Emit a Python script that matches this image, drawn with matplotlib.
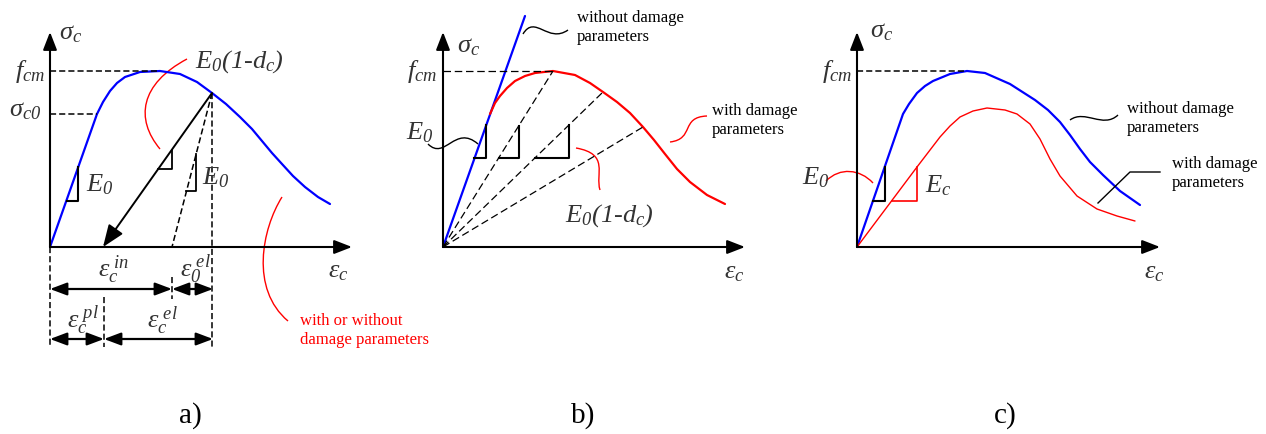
import matplotlib
matplotlib.use("Agg")
import matplotlib.pyplot as plt
from matplotlib.path import Path
from matplotlib.patches import PathPatch

plt.rcParams['font.family'] = ['Liberation Serif', 'DejaVu Serif']
plt.rcParams['mathtext.fontset'] = 'custom'
plt.rcParams['mathtext.rm'] = 'Liberation Serif:italic'
plt.rcParams['mathtext.it'] = 'Liberation Serif:italic'

BLUE = '#0000ff'
RED = '#ff0000'
GREY = '#333333'

# panel origins (pixels) and common baseline
X0 = {'a': 50, 'b': 443, 'c': 857}
Y0 = 248

# a) concrete curve (strain, stress) relative to origin
strain_a = [0, 47, 53, 60, 67, 75, 90, 110, 130, 147, 162, 176, 190, 202, 212, 222, 232, 243, 255, 268, 280]
stress_a = [0, 133, 145, 156, 164, 170, 175, 176, 173, 165, 154, 143, 130, 118, 106, 94, 83, 71, 60, 50, 43]
# unloading point and intercepts on strain axis
unload_pt = (162, 154)
eps_pl = 53     # plastic strain (arrow tip)
eps_in = 122    # inelastic strain
# b) damaged curve
strain_b = [47, 52, 57, 64, 72, 82, 92, 110, 132, 147, 160, 174, 187, 200, 211, 222, 234, 247, 264, 282]
stress_b = [133, 144, 151, 159, 166, 171, 174, 176, 172, 164, 155, 145, 134, 120, 107, 93, 78, 65, 52, 43]
elastic_b = ([0, 82], [0, 231])
secant_pts = [(110, 176), (160, 155), (200, 120)]
# c) with / without damage
strain_c_blue = [0, 46, 52, 60, 68, 76, 93, 110, 128, 153, 178, 191, 203, 213, 223, 233, 246, 263, 283]
stress_c_blue = [0, 133, 143, 154, 161, 166, 173, 176, 174, 163, 147, 137, 125, 112, 98, 85, 72, 56, 42]
strain_c_red = [0, 60, 83, 93, 103, 116, 130, 148, 160, 173, 183, 193, 203, 220, 240, 260, 278]
stress_c_red = [0, 80, 110, 121, 130, 136, 139, 137, 133, 123, 108, 88, 71, 51, 38, 31, 26]
f_cm = 176


def P(panel, e, s):
    return X0[panel] + e, Y0 - s


def curve(ax, panel, e, s, **kw):
    xs = [X0[panel] + v for v in e]
    ys = [Y0 - v for v in s]
    ax.plot(xs, ys, solid_capstyle='round', solid_joinstyle='round', **kw)


def arrow(ax, p0, p1, style='-|>', hl=0.9, hw=0.35, lw=1.5, ms=12):
    ax.annotate('', xy=p1, xytext=p0,
                arrowprops=dict(arrowstyle=f'{style},head_length={hl},head_width={hw}',
                                color='black', lw=lw, mutation_scale=ms,
                                shrinkA=0, shrinkB=0))


def squiggle(ax, pts, color, lw=1.0):
    codes = [Path.MOVETO] + [Path.CURVE4] * (len(pts) - 1)
    ax.add_patch(PathPatch(Path(pts, codes), fc='none', ec=color, lw=lw))


def axes_frame(ax, panel, xlen=302):
    x0 = X0[panel]
    arrow(ax, (x0, Y0), (x0, 33))
    arrow(ax, (x0, Y0), (x0 + xlen, Y0))


def mtext(ax, x, y, s, ha='left', size=19, color=GREY, style='normal'):
    ax.text(x, y, s, ha=ha, va='baseline', fontsize=size, color=color, fontstyle=style)


def words(ax, x, y, lines, color='black'):
    for i, ln in enumerate(lines):
        ax.text(x, y + 19 * i, ln, ha='left', va='baseline', fontsize=12, color=color)


def tri(ax, xv, ytop, xl, ybot, color='black', lw=1.5):
    ax.plot([xv, xv, xl], [ytop, ybot, ybot], color=color, lw=lw)


fig = plt.figure(figsize=(12.66, 4.35), dpi=100)
ax = fig.add_axes([0, 0, 1, 1])
ax.set_xlim(0, 1266)
ax.set_ylim(435, 0)
ax.axis('off')

dash_a = dict(color='black', lw=1.1, ls=(0, (4, 2)))
dash_b = dict(color='black', lw=0.9, ls=(0, (6, 3)))

# ---------------- a)
axes_frame(ax, 'a')
curve(ax, 'a', strain_a, stress_a, color=BLUE, lw=1.6)
ux, uy = P('a', *unload_pt)
ax.plot([X0['a'], X0['a'] + 110], [Y0 - f_cm] * 2, **dash_a)
ax.plot([X0['a'], X0['a'] + 47], [Y0 - 133] * 2, **dash_a)
ax.plot([ux, X0['a'] + eps_in], [uy, Y0], **dash_a)
ax.plot([ux, ux], [uy, 348], **dash_a)
ax.plot([X0['a'], X0['a']], [Y0, 348], **dash_a)
ax.plot([X0['a'] + eps_in] * 2, [278, 300], **dash_a)
ax.plot([X0['a'] + eps_pl + 1] * 2, [298, 348], **dash_a)
arrow(ax, (ux, uy), P('a', eps_pl, 0), lw=1.4, ms=15)
tri(ax, 78, 168, 67, 202)
tri(ax, 172, 151, 158, 170, lw=1.3)
tri(ax, 196, 155, 186, 192, lw=1.3)
for y, a0, a1 in [(290, 0, eps_in), (290, eps_in, unload_pt[0] + 1),
                  (340, 0, eps_pl + 1), (340, eps_pl + 1, unload_pt[0] + 1)]:
    arrow(ax, (X0['a'] + a0, y), (X0['a'] + a1, y), style='<|-|>', hl=0.85, hw=0.32, lw=1.6)
squiggle(ax, [(187, 60), (140, 85), (135, 120), (160, 150)], RED)
squiggle(ax, [(282, 198), (262, 230), (250, 290), (288, 322)], RED)
mtext(ax, 59, 39, r'$\sigma_c$')
mtext(ax, 45, 78, r'$f_{cm}$', ha='right')
mtext(ax, 41, 116, r'$\sigma_{c0}$', ha='right')
mtext(ax, 86, 191, r'$E_0$')
mtext(ax, 195, 68, r'$E_0(1$-$d_c)$', style='italic')
mtext(ax, 202, 184, r'$E_0$')
mtext(ax, 328, 277, r'$\varepsilon_c$')
mtext(ax, 98, 277, r'$\varepsilon_c^{\ in}$')
mtext(ax, 180, 277, r'$\varepsilon_0^{\ el}$')
mtext(ax, 67, 328, r'$\varepsilon_c^{\ pl}$')
mtext(ax, 147, 328, r'$\varepsilon_c^{\ el}$')
words(ax, 300, 325, ['with or without', 'damage parameters'], color=RED)

# ---------------- b)
axes_frame(ax, 'b')
curve(ax, 'b', elastic_b[0], elastic_b[1], color=BLUE, lw=1.6)
curve(ax, 'b', strain_b, stress_b, color=RED, lw=1.6)
ax.plot([X0['b'], X0['b'] + 110], [Y0 - f_cm] * 2, **dash_b)
for e, s in secant_pts:
    ax.plot([X0['b'], X0['b'] + e], [Y0, Y0 - s], **dash_b)
tri(ax, 486, 126, 474, 159)
tri(ax, 519, 127, 499, 159)
tri(ax, 569, 126, 535, 159)
squiggle(ax, [(523, 35), (535, 15), (548, 45), (568, 31)], 'black')
squiggle(ax, [(428, 145), (445, 162), (455, 125), (478, 145)], 'black')
squiggle(ax, [(576, 149), (610, 155), (595, 175), (600, 191)], RED)
squiggle(ax, [(670, 143), (695, 140), (680, 118), (707, 117)], RED)
mtext(ax, 457, 52, r'$\sigma_c$')
mtext(ax, 437, 78, r'$f_{cm}$', ha='right')
mtext(ax, 433, 139, r'$E_0$', ha='right')
mtext(ax, 565, 222, r'$E_0(1$-$d_c)$', style='italic')
mtext(ax, 724, 278, r'$\varepsilon_c$')
words(ax, 577, 22, ['without damage', 'parameters'])
words(ax, 712, 115, ['with damage', 'parameters'])

# ---------------- c)
axes_frame(ax, 'c', xlen=303)
curve(ax, 'c', strain_c_blue, stress_c_blue, color=BLUE, lw=1.6)
curve(ax, 'c', strain_c_red, stress_c_red, color=RED, lw=1.0)
ax.plot([X0['c'], X0['c'] + 110], [Y0 - f_cm] * 2, **dash_a)
tri(ax, 885, 168, 873, 202)
tri(ax, 917, 168, 892, 202, color=RED, lw=1.2)
squiggle(ax, [(826, 182), (840, 168), (860, 170), (873, 184)], RED)
squiggle(ax, [(1070, 121), (1085, 110), (1103, 130), (1118, 116)], 'black')
ax.plot([1098, 1130, 1160], [204, 173, 173], color='black', lw=1.0)
mtext(ax, 870, 37, r'$\sigma_c$')
mtext(ax, 852, 78, r'$f_{cm}$', ha='right')
mtext(ax, 802, 184, r'$E_0$')
mtext(ax, 925, 192, r'$E_c$')
mtext(ax, 1144, 278, r'$\varepsilon_c$')
words(ax, 1127, 113, ['without damage', 'parameters'])
words(ax, 1172, 168, ['with damage', 'parameters'])

for lab, x in [('a)', 190), ('b)', 583), ('c)', 1005)]:
    ax.text(x, 423, lab, ha='center', va='baseline', fontsize=21, color='black')

fig.savefig('out.png', dpi=100, facecolor='white')
